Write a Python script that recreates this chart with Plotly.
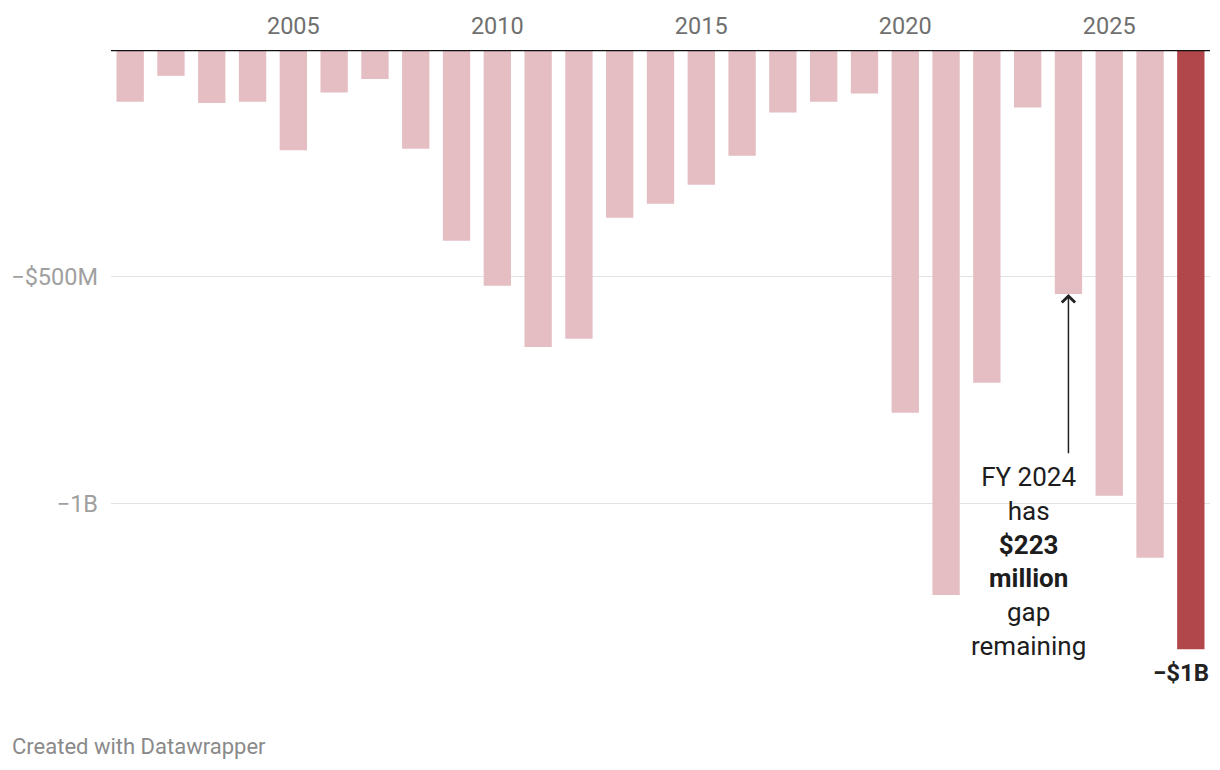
import plotly.graph_objects as go

years = list(range(2001, 2028))
gap_millions = [-114, -57, -117, -114, -221, -94, -64, -218, -421, -520, -655, -637, -370,
                -339, -297, -233, -138, -114, -96, -800, -1202, -734, -127, -538, -983,
                -1120, -1322]
x_tick_vals = [2005, 2010, 2015, 2020, 2025]
x_tick_text = ["2005", "2010", "2015", "2020", "2025"]
y_tick_vals = [-500, -1000]
y_tick_text = ["\u2212$500M", "\u22121B"]
highlight_year = 2027
annotated_year = 2024
last_label = "\u2212$1B"
note_text = "FY 2024<br>has<br><b>$223</b><br><b>million</b><br>gap<br>remaining"

LIGHT = "#e4bec2"
DARK = "#b1474b"
colors = [DARK if y == highlight_year else LIGHT for y in years]

fig = go.Figure()
fig.add_trace(go.Bar(x=years, y=gap_millions, marker=dict(color=colors, line=dict(width=0)),
                     hoverinfo="x+y"))

ann_val = gap_millions[years.index(annotated_year)]
last_val = gap_millions[years.index(highlight_year)]

# page body has an 8px margin; figure is sized to fit the 1220x770 window
fig.update_layout(
    width=1212, height=762,
    margin=dict(l=103, r=10, t=42, b=70, autoexpand=False),
    paper_bgcolor="white", plot_bgcolor="white",
    bargap=0.33,
    showlegend=False,
    font=dict(family="Roboto", color="#333"),
    xaxis=dict(
        side="top", range=[2000.53, 2027.47], automargin=False,
        tickvals=x_tick_vals, ticktext=x_tick_text,
        tickfont=dict(family="Roboto", size=23.5, color="#707070"),
        showgrid=False, zeroline=False, showline=False, ticks="",
        ticklabelstandoff=10, fixedrange=True,
    ),
    yaxis=dict(
        range=[-1433.8, 0], automargin=False,
        tickvals=y_tick_vals, ticktext=y_tick_text,
        tickfont=dict(family="Roboto", size=23.5, color="#a0a0a0"),
        showgrid=True, gridcolor="#e2e2e2", gridwidth=1.2,
        zeroline=False, showline=False, ticks="",
        ticklabelstandoff=12, fixedrange=True,
    ),
    shapes=[dict(type="line", xref="paper", yref="y", x0=0, x1=1, y0=0, y1=0,
                 line=dict(color="#111", width=2.5), layer="above")],
    annotations=[
        dict(x=annotated_year, y=ann_val, xref="x", yref="y",
             ax=annotated_year, ay=-893, axref="x", ayref="y",
             showarrow=True, arrowhead=4, arrowsize=1.7, arrowwidth=1.5,
             arrowcolor="#222", standoff=0, text=""),
        dict(x=2023.02, y=-905, xref="x", yref="y", text=note_text, showarrow=False,
             xanchor="center", yanchor="top", align="center",
             font=dict(family="Roboto", size=26, color="#1d1d1d")),
        dict(x=highlight_year, y=last_val, xref="x", yref="y", text="<b>" + last_label + "</b>",
             showarrow=False, xanchor="center", yanchor="top", yshift=-8, xshift=-10,
             font=dict(family="Roboto", size=24, color="#222")),
        dict(x=0, y=0, xref="paper", yref="paper", text="Created with Datawrapper",
             showarrow=False, xanchor="left", yanchor="middle", xshift=-101, yshift=-46,
             font=dict(family="Roboto", size=22, color="#8a8a8a")),
    ],
)

fig.write_html("out.html")
